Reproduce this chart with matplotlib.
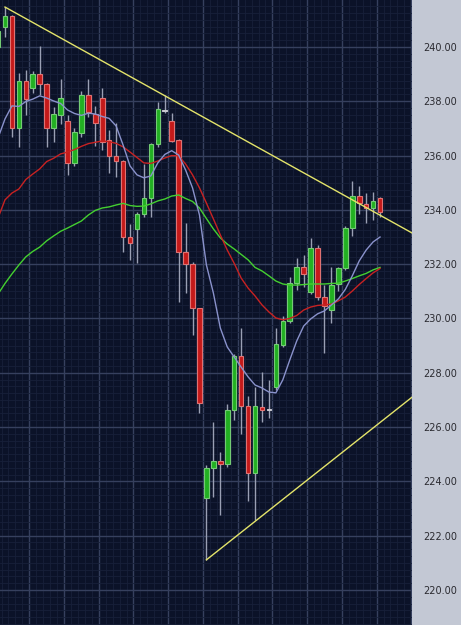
import numpy as np
import matplotlib
matplotlib.use("Agg")
import matplotlib.pyplot as plt
from matplotlib.ticker import MultipleLocator, FixedLocator, FormatStrFormatter

# candle index -1 is the partly hidden bar at the left edge
idx = np.arange(-1, 55)
opens = [240.00, 240.73, 241.14, 237.03, 238.75, 238.48, 239.01, 238.64, 237.03, 237.50,
         237.29, 235.72, 236.84, 238.23, 237.53, 238.13, 236.57, 236.00, 235.80, 232.99,
         233.29, 233.84, 234.43, 236.42, 237.65, 237.29, 236.57, 232.46, 232.01, 230.38,
         223.38, 224.48, 224.75, 224.63, 226.63, 228.62, 226.79, 224.30, 226.75, 226.65,
         227.49, 229.02, 229.92, 231.30, 231.91, 230.97, 232.59, 230.80, 230.31, 231.27,
         231.85, 233.32, 234.51, 234.21, 234.06, 234.43]
highs = [240.74, 241.47, 241.16, 239.03, 239.15, 239.13, 240.05, 238.66, 237.78, 238.81,
         237.50, 237.00, 238.39, 238.82, 237.83, 238.49, 236.94, 237.19, 235.85, 233.48,
         233.93, 235.68, 236.45, 237.99, 238.23, 237.56, 236.60, 233.51, 232.09, 230.40,
         224.60, 226.20, 225.09, 226.85, 228.70, 229.66, 227.15, 227.49, 228.04, 227.73,
         229.64, 230.09, 231.52, 232.24, 232.34, 232.95, 232.71, 231.23, 231.91, 231.91,
         233.40, 235.08, 234.88, 234.63, 234.65, 234.47]
lows = [239.52, 240.38, 236.70, 236.33, 237.50, 238.29, 238.23, 236.33, 236.51, 237.16,
        235.29, 235.60, 236.70, 237.43, 236.36, 236.21, 235.37, 235.22, 232.46, 232.15,
        232.06, 233.73, 233.75, 236.33, 237.56, 236.50, 230.62, 230.93, 229.39, 226.53,
        221.11, 223.44, 222.76, 224.54, 226.26, 225.75, 223.29, 222.58, 226.20, 226.32,
        227.37, 228.95, 229.85, 231.05, 231.17, 230.90, 230.68, 228.72, 229.82, 231.00,
        231.79, 233.04, 233.85, 233.51, 233.63, 233.75]
closes = [240.60, 241.14, 237.03, 238.75, 238.08, 239.01, 238.64, 237.03, 237.52, 238.13,
          235.74, 236.86, 238.23, 237.59, 237.19, 236.51, 235.99, 235.80, 232.99, 232.77,
          233.85, 234.43, 236.42, 237.71, 237.65, 236.54, 232.46, 232.01, 230.38, 226.90,
          224.48, 224.75, 224.63, 226.63, 228.62, 226.79, 224.30, 226.78, 226.63, 226.65,
          229.05, 229.92, 231.30, 231.91, 231.64, 232.59, 230.80, 230.46, 231.23, 231.85,
          233.32, 234.51, 234.24, 234.08, 234.33, 233.93]

ma_fast = [236.65, 237.35, 237.83, 237.81, 237.99, 238.08, 238.20, 238.12, 238.01, 237.92,
           237.68, 237.55, 237.48, 237.56, 237.53, 237.44, 237.37, 237.09, 236.39, 235.62,
           235.29, 235.18, 235.25, 235.73, 236.04, 236.18, 236.02, 235.47, 234.81, 233.81,
           231.97, 230.94, 229.65, 228.95, 228.58, 228.21, 227.85, 227.55, 227.44, 227.29,
           227.26, 227.74, 228.47, 229.17, 229.72, 229.98, 230.17, 230.28, 230.50, 230.72,
           231.07, 231.57, 232.12, 232.52, 232.82, 233.00]
ma_mid = [233.70, 234.37, 234.62, 234.77, 235.12, 235.32, 235.51, 235.78, 235.90, 236.06,
          236.13, 236.22, 236.34, 236.44, 236.49, 236.54, 236.51, 236.45, 236.32, 236.13,
          235.93, 235.73, 235.71, 235.80, 235.91, 236.00, 235.99, 235.69, 235.29, 234.81,
          234.25, 233.67, 233.08, 232.52, 232.03, 231.49, 231.12, 230.83, 230.50, 230.24,
          230.02, 229.95, 230.00, 230.11, 230.31, 230.42, 230.48, 230.50, 230.53, 230.65,
          230.79, 231.01, 231.25, 231.47, 231.68, 231.84]
ma_slow = [230.90, 231.29, 231.64, 231.97, 232.27, 232.47, 232.63, 232.86, 233.04, 233.21,
           233.33, 233.46, 233.59, 233.81, 233.98, 234.07, 234.11, 234.18, 234.24, 234.16,
           234.13, 234.14, 234.22, 234.33, 234.40, 234.51, 234.55, 234.42, 234.31, 234.07,
           233.68, 233.30, 232.97, 232.74, 232.56, 232.36, 232.16, 231.88, 231.75, 231.57,
           231.38, 231.27, 231.23, 231.23, 231.25, 231.27, 231.27, 231.27, 231.29, 231.30,
           231.38, 231.47, 231.57, 231.66, 231.79, 231.88]

upper_x, upper_y = [0, 58.6], [241.47, 233.15]
lower_x, lower_y = [29, 58.6], [221.11, 227.10]

price_ticks = np.arange(220, 241, 2)

bg = "#0b1228"
fig = plt.figure(figsize=(4.61, 6.25), dpi=100, facecolor="#c3c8d4")
ax = fig.add_axes([0, 0, 412 / 461, 1])
ax.set_facecolor(bg)

ax.set_xlim(-0.72, 58.6)
ax.set_ylim(218.71, 241.73)

# grid
ax.xaxis.set_major_locator(FixedLocator(np.arange(3.5, 60, 5)))
ax.xaxis.set_minor_locator(FixedLocator(np.arange(-0.5, 60, 1)))
ax.yaxis.set_major_locator(FixedLocator(price_ticks))
ax.yaxis.set_minor_locator(MultipleLocator(0.25))
ax.grid(which="minor", color="#172039", lw=0.6)
ax.grid(which="major", color="#36405e", lw=1.0)
ax.set_axisbelow(True)

o = np.array(opens)
c = np.array(closes)
up = c > o
down = c < o
flat = ~(up | down)

ax.vlines(idx, lows, highs, color="#9aa0b4", lw=1, zorder=2)
w = 0.66
ax.bar(idx[up], (c - o)[up], bottom=o[up], width=w, color="#22b022",
       edgecolor="#74cc74", lw=0.8, zorder=3)
ax.bar(idx[down], (c - o)[down], bottom=o[down], width=w, color="#c41a1a",
       edgecolor="#e07272", lw=0.8, zorder=3)
ax.bar(idx[flat], np.full(flat.sum(), 0.04), bottom=o[flat] - 0.02, width=w,
       color="#c8c8d0", edgecolor="#c8c8d0", lw=0.8, zorder=3)

ax.plot(idx, ma_slow, color="#44d030", lw=1, zorder=4)
ax.plot(idx, ma_mid, color="#c82222", lw=1, zorder=4)
ax.plot(idx, ma_fast, color="#8a92cc", lw=1, zorder=4)

ax.plot(upper_x, upper_y, color="#e4e46a", lw=1, zorder=5)
ax.plot(lower_x, lower_y, color="#e4e46a", lw=1, zorder=5)

ax.yaxis.tick_right()
ax.yaxis.set_major_formatter(FormatStrFormatter("%.2f"))
ax.tick_params(axis="y", which="both", length=0, pad=8, labelsize=7, labelcolor="#2a2a30")
ax.tick_params(axis="x", which="both", length=0, labelbottom=False)
for s in ax.spines.values():
    s.set_visible(False)

fig.savefig("out.png", dpi=100, facecolor=fig.get_facecolor())
